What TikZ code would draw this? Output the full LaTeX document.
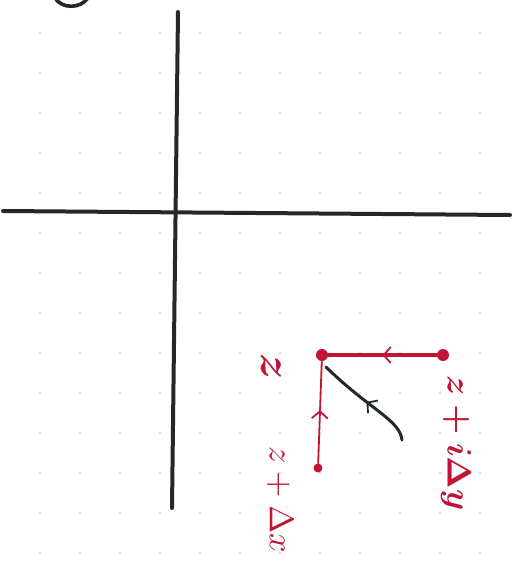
\documentclass[tikz,border=0pt]{standalone}
\usepackage{amsmath,amssymb}
\usetikzlibrary{arrows.meta,positioning,calc,decorations.markings}
\definecolor{inkred}{RGB}{190,22,52}
\definecolor{inkblack}{RGB}{35,40,40}
\definecolor{dotgray}{RGB}{205,205,205}
\tikzset{
  axis/.style={inkblack, line width=4pt, line cap=round},
  pt/.style={circle, fill=inkred, inner sep=0pt, minimum size=12pt},
  ptsmall/.style={circle, fill=inkred, inner sep=0pt, minimum size=9pt},
  midarr/.style={postaction={decorate, decoration={markings,
      mark=at position #1 with {\arrow{Straight Barb[length=7pt, width=16pt, line width=1.8pt]}}}}},
  hpath/.style={inkred, line width=4pt, line cap=round},
  vpath/.style={inkred, line width=1.8pt, line cap=round},
  kpath/.style={inkblack, line width=3pt, line cap=round},
  lbl/.style={text=inkred, rotate=-90, inner sep=0pt},
}
\begin{document}
\begin{tikzpicture}[x=1pt, y=-1pt]
  \useasboundingbox (0,0) rectangle (518,574);
  % dot grid of the paper
  \foreach \i in {40,80,...,480}
    \foreach \j in {33,73,...,553}
      \fill[dotgray] (\i,\j) circle (1.1pt);
  % axes
  \draw[axis] (3,211) -- (510,215);
  \draw[axis] (178,12) -- (172,508);
  % cut stroke at the top edge
  \draw[inkblack, line width=3.6pt] (55,-2) .. controls (62,9) and (80,9) .. (88,-2);
  % points
  \node[pt] (z) at (322,355) {};
  \node[pt] (zy) at (443,355) {};
  \node[ptsmall] (zx) at (318,468) {};
  \coordinate (kend) at (402,440);
  \coordinate (kstart) at (326,367);
  % paths into z
  \draw[hpath, midarr=0.5] (zy) -- (z);
  \draw[vpath, midarr=0.52] (zx) -- (z);
  \draw[kpath, midarr=0.5] (kend) .. controls (400,420) and (370,410) .. (kstart);
  % labels
  \node[lbl, scale=4.4, font=\boldmath] (zlab) at (271,367) {$z$};
  \node[lbl, scale=3.4] (zxlab) at (280,500) {$z+\Delta x$};
  \node[lbl, scale=3.4, font=\boldmath] (zylab) at (456,443) {$z+i\Delta y$};
\end{tikzpicture}
\end{document}
